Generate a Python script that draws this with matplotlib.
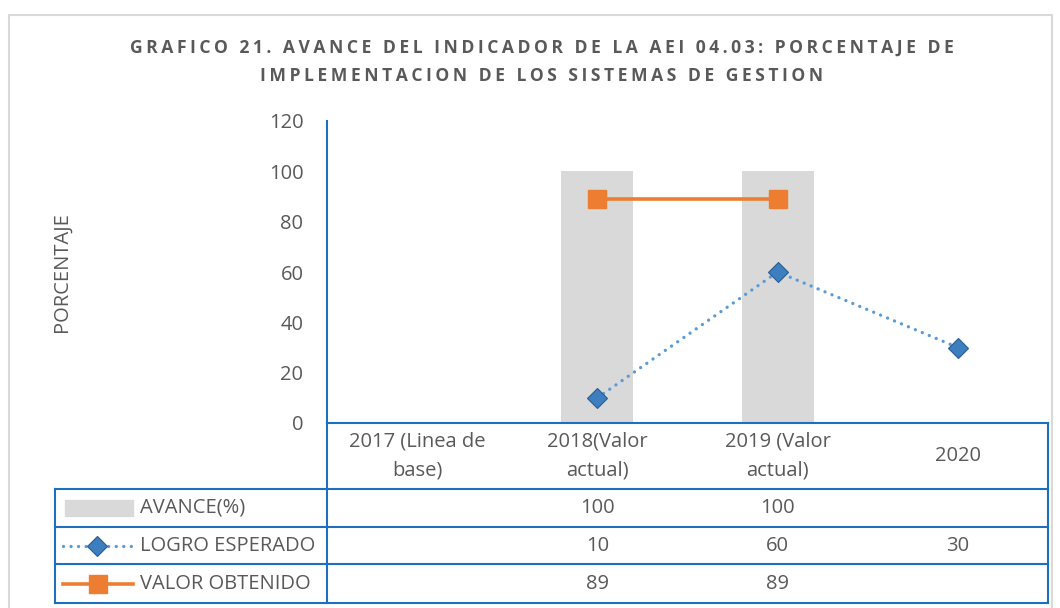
import numpy as np
import matplotlib.pyplot as plt
from matplotlib.patches import Rectangle
from matplotlib.lines import Line2D

# Datos del grafico
categorias = ['2017 (Linea de\nbase)', '2018(Valor\nactual)', '2019 (Valor\nactual)', '2020']
avance = [np.nan, 100, 100, np.nan]
logro_esperado = [np.nan, 10, 60, 30]
valor_obtenido = [np.nan, 89, 89, np.nan]
series_nombres = ['AVANCE(%)', 'LOGRO ESPERADO', 'VALOR OBTENIDO']
y_ticks = [0, 20, 40, 60, 80, 100, 120]
titulo = ['GRAFICO 21. AVANCE DEL INDICADOR DE LA AEI 04.03: PORCENTAJE DE',
          'IMPLEMENTACION DE LOS SISTEMAS DE GESTION']

GRIS = '#d9d9d9'
NARANJA = '#ed7d31'
AZUL = '#5b9bd5'
BORDE = '#1f6fc0'
TEXTO = '#595959'
FS = 14.5

plt.rcParams['font.family'] = ['Open Sans', 'DejaVu Sans']

W, H = 1060, 608
fig = plt.figure(figsize=(W / 100, H / 100), dpi=100)


def fx(px):
    return px / W


def fy(py):
    return 1 - py / H


# marco exterior
fig.add_artist(Rectangle((fx(9), -0.1), fx(1052) - fx(9), fy(15) + 0.1, fill=False,
                         ec=GRIS, lw=1.5, transform=fig.transFigure))

ax = fig.add_axes([fx(327), fy(423), fx(1048) - fx(327), fy(121) - fy(423)])
x = np.arange(len(categorias))
ax.bar(x, avance, width=0.4, color=GRIS, zorder=1)
ax.plot(x, logro_esperado, color=AZUL, lw=2.4, linestyle=(0, (0.01, 2.25)),
        dash_capstyle='round', marker='D', ms=10, mfc='#3d7ebf', mec='#2a5d8f',
        mew=0.8, zorder=3)
ax.plot(x, valor_obtenido, color=NARANJA, lw=2.6, marker='s', ms=13,
        mfc=NARANJA, mec=NARANJA, zorder=3)

ax.set_xlim(-0.5, 3.5)
ax.set_ylim(0, 120)
ax.set_yticks(y_ticks)
ax.set_xticks([])
ax.tick_params(axis='y', length=0, pad=17, labelsize=FS, labelcolor=TEXTO)
for s in ['top', 'right']:
    ax.spines[s].set_visible(False)
for s in ['left', 'bottom']:
    ax.spines[s].set_color(BORDE)
    ax.spines[s].set_linewidth(1.5)

fig.text(fx(62), fy(272), 'PORCENTAJE', rotation=90, ha='center', va='center',
         fontsize=FS, color=TEXTO)

# titulo con espaciado entre letras (espacio fino)
for linea_t, yy in zip(titulo, [48, 76]):
    fig.text(fx(542), fy(yy), '\u2009'.join(linea_t), ha='center', va='center',
             fontsize=12.6, fontweight='bold', color=TEXTO)


# tabla de datos
def linea(x0, y0, x1, y1):
    fig.add_artist(Line2D([fx(x0), fx(x1)], [fy(y0), fy(y1)], color=BORDE, lw=1.5,
                          transform=fig.transFigure))


for yy in [489, 527, 564, 603]:
    linea(55, yy, 1048, yy)
linea(327, 423, 327, 603)
linea(1048, 423, 1048, 603)
linea(55, 489, 55, 603)

tr = ax.get_xaxis_transform()


def ay(py):
    return (423 - py) / 302


for i, c in enumerate(categorias):
    ax.text(i, ay(456), c, transform=tr, ha='center', va='center', fontsize=FS,
            color=TEXTO, linespacing=1.6, clip_on=False)

filas = [avance, logro_esperado, valor_obtenido]
centros = [508, 546, 584]
for fila, yc in zip(filas, centros):
    for i, v in enumerate(fila):
        if not np.isnan(v):
            ax.text(i, ay(yc), f'{v:.0f}', transform=tr, ha='center', va='center',
                    fontsize=FS, color=TEXTO, clip_on=False)

# claves de leyenda
fig.add_artist(Rectangle((fx(65), fy(516)), fx(133) - fx(65), fy(500) - fy(516),
                         color=GRIS, transform=fig.transFigure))
fig.add_artist(Line2D([fx(63), fx(131)], [fy(546), fy(546)], color=AZUL, lw=2.4,
                      linestyle=(0, (0.01, 2.25)), dash_capstyle='round',
                      transform=fig.transFigure))
fig.add_artist(Line2D([fx(97)], [fy(546)], marker='D', ms=10, mfc='#3d7ebf',
                      mec='#2a5d8f', mew=0.8, transform=fig.transFigure))
fig.add_artist(Line2D([fx(63), fx(133)], [fy(584), fy(584)], color=NARANJA, lw=2.6,
                      transform=fig.transFigure))
fig.add_artist(Line2D([fx(98)], [fy(584)], marker='s', ms=13, mfc=NARANJA,
                      mec=NARANJA, transform=fig.transFigure))
for nombre, yc in zip(series_nombres, centros):
    fig.text(fx(140), fy(yc), nombre, ha='left', va='center', fontsize=FS, color=TEXTO)

fig.savefig('out.png', dpi=100)
